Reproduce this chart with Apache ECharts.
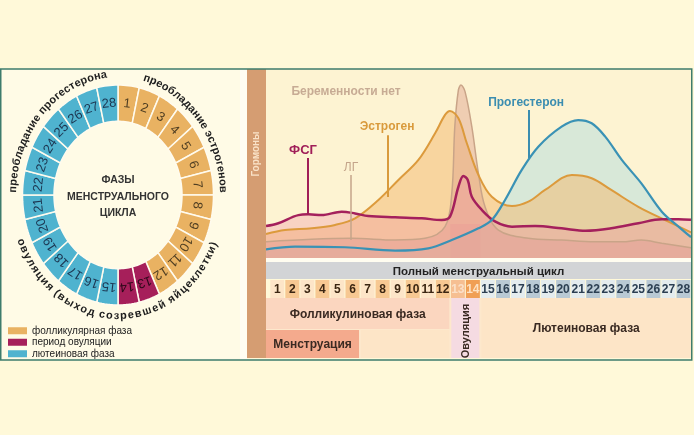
<!DOCTYPE html>
<html>
<head>
<meta charset="utf-8">
<script src="https://cdn.jsdelivr.net/npm/echarts@6/dist/echarts.min.js"></script>
<style>
  html, body { margin: 0; padding: 0; background: #fff9d9; }
  #main { width: 694px; height: 435px; }
</style>
</head>
<body>
<div id="main"></div>
<script>
const FONT = '"Liberation Sans", Arial, sans-serif';

// ---- кольцо: дни цикла по фазам
const ringNames = ['фолликулярная фаза', 'период овуляции', 'лютеиновая фаза'];
const follicularDays = [1, 2, 3, 4, 5, 6, 7, 8, 9, 10, 11, 12];
const ovulationDays = [13, 14];
const lutealDays = [15, 16, 17, 18, 19, 20, 21, 22, 23, 24, 25, 26, 27, 28];
const ringCaptions = ['преобладание прогестерона', 'преобладание эстрогенов', 'овуляция (выход созревшей яйцеклетки)'];

// ---- гормоны: [день цикла, уровень]
const fshCurve = [[-0.25,16.9],[0.57,18.4],[1.9,22.7],[2.56,23.1],[3.45,22.7],[4.78,24.5],[5.67,23.6],[6.55,22.2],[8.33,21.5],[10.1,21],[11.43,20.1],[11.98,21.9],[12.54,37.7],[12.87,43.4],[13.16,41.3],[13.43,32.4],[14.1,25.4],[15.0,19.2],[16.1,16.6],[17.64,16.9],[19.4,15.7],[21,14.4],[22.7,15.7],[24.5,18.4],[26.06,20.5],[27.17,20.5],[28,20.2]];
const estrogenCurve = [[-0.25,12.7],[1.01,14.8],[2.79,15.7],[4.34,17.5],[5.67,21],[7.22,30.7],[8.55,41.3],[9.88,51.9],[10.99,66],[11.65,75.7],[11.98,77.8],[12.54,73.9],[13.1,60.7],[13.87,43.9],[14.76,32.4],[16.1,27.5],[17.19,29.8],[18.3,36],[20.08,43.9],[21.4,42.2],[22.7,36],[24.5,27.1],[26.28,20.1],[28,13.6]];
const lhCurve = [[-0.25,8.6],[2.79,9.9],[5.45,10.4],[8.33,9.5],[10.32,10.4],[11.65,16.6],[12.1,34.2],[12.3,69.5],[12.54,88.9],[12.71,91.5],[12.98,88],[13.43,69.5],[13.87,44.8],[14.31,27.1],[15.2,14.8],[17.19,10.4],[19.4,9.5],[21.6,8.6],[23.4,8.6],[24.7,9.5],[26.06,7.8],[28,5.4]];
const progesteroneCurve = [[-0.25,4.6],[1.68,6],[5.0,5.7],[8.33,3.9],[10.54,5.1],[12.1,9.5],[13.87,15.7],[14.76,20.1],[15.64,30.7],[16.75,46.6],[17.85,58.9],[19.4,69.5],[20.5,73],[21.4,71.3],[22.3,64.2],[23.4,51.9],[24.7,39.5],[26.06,24.5],[27.17,16.6],[28,11]];

// ---- подписи кривых: [x, y] и выноски [x, yTop, yBottom]
const labelNames = ['ФСГ', 'ЛГ', 'Эстроген', 'Прогестерон', 'Беременности нет'];
const labelPos = [[2.21,57.1],[5.4,47.6],[7.8,69.3],[17.04,82],[5.07,87.8]];
const leaderPos = [[2.54,52.9,22.8],[5.4,43.9,9.5],[7.86,65,32.3],[17.24,78.3,52.9]];

// ---- таблица снизу
const cycleDays = [1,2,3,4,5,6,7,8,9,10,11,12,13,14,15,16,17,18,19,20,21,22,23,24,25,26,27,28];
const bandNames = ['Полный менструальный цикл', 'Фолликулиновая фаза', 'Менструация', '', 'Овуляция', 'Лютеиновая фаза'];
const bandFrom = [0, 0, 0, 6, 12, 14];
const bandTo = [28, 12, 6, 12, 14, 28];
const bandRow = ['cycle', 'top', 'bottom', 'bottom', 'full', 'full'];

// ---- оформление
const ROWS = { cycle: [0, 17], days: [18, 36], top: [36, 67], bottom: [68, 96], full: [36, 96] };
const BAND_FILL = ['#d2d4d6', '#fbd6bf', '#f4aa8d', '#fde5c7', '#f5dbe2', '#fde5c7'];
const RING = { cx: 118, cy: 195, rx: 95.5, ry: 110, inner: 0.67 };
const RING_COLORS = ['#e9b262', '#a61f5a', '#4fb3cf'];
const RING_TEXT = ['#4f3e22', '#2a0818', '#1c3550'];

function dayLook(d) {
  if (d <= 12) return { bg: d % 2 ? '#fde5c8' : '#f7c892', fg: '#3b2612' };
  if (d === 13) return { bg: '#f6bf92', fg: '#fbe0c8' };
  if (d === 14) return { bg: '#f09f55', fg: '#fde2c4' };
  return { bg: d % 2 ? '#e4ecee' : '#b9c9d4', fg: '#2c3f52' };
}

function ringItem(idx) {
  return function (params, api) {
    const d = api.value(0);
    const step = 2 * Math.PI / 28;
    const a0 = -Math.PI / 2 + (d - 1) * step, a1 = a0 + step;
    const pts = [];
    const N = 8;
    for (let i = 0; i <= N; i++) {
      const a = a0 + (a1 - a0) * i / N;
      pts.push(api.coord([Math.cos(a), -Math.sin(a)]));
    }
    for (let i = N; i >= 0; i--) {
      const a = a0 + (a1 - a0) * i / N;
      pts.push(api.coord([RING.inner * Math.cos(a), -RING.inner * Math.sin(a)]));
    }
    const am = (a0 + a1) / 2;
    const rm = (1 + RING.inner) / 2;
    const tp = api.coord([rm * Math.cos(am), -rm * Math.sin(am)]);
    return {
      type: 'group',
      children: [
        { type: 'polygon', shape: { points: pts }, style: { fill: api.visual('color'), stroke: '#fffbee', lineWidth: 1.5 } },
        { type: 'text', x: tp[0], y: tp[1], rotation: -(am + Math.PI / 2),
          style: { text: String(d), fill: RING_TEXT[idx], font: '13px ' + FONT, align: 'center', verticalAlign: 'middle' } }
      ]
    };
  };
}

function dayCell(params, api) {
  const d = api.value(0);
  const p0 = api.coord([d - 1, ROWS.days[0]]);
  const p1 = api.coord([d, ROWS.days[1]]);
  const look = dayLook(d);
  return {
    type: 'group',
    children: [
      { type: 'rect', shape: { x: p0[0] + 0.5, y: p0[1], width: p1[0] - p0[0] - 1, height: p1[1] - p0[1] }, style: { fill: look.bg } },
      { type: 'text', x: (p0[0] + p1[0]) / 2, y: (p0[1] + p1[1]) / 2 + 1,
        style: { text: String(d), fill: look.fg, font: 'bold 12px ' + FONT, align: 'center', verticalAlign: 'middle' } }
    ]
  };
}

function bandItem(params, api) {
  const i = params.dataIndex;
  const row = ROWS[bandRow[i]];
  const from = api.value(0), to = api.value(1);
  const x0 = from === 0 ? params.coordSys.x : api.coord([from, 0])[0] + 1;
  const x1 = api.coord([to, 0])[0] - (to === 28 ? 0 : 1);
  const y0 = api.coord([0, row[0]])[1], y1 = api.coord([0, row[1]])[1];
  const vertical = bandNames[i] === 'Овуляция';
  const isCycle = bandRow[i] === 'cycle';
  return {
    type: 'group',
    children: [
      { type: 'rect', shape: { x: x0, y: y0, width: x1 - x0, height: y1 - y0 }, style: { fill: BAND_FILL[i] } },
      { type: 'text', x: (x0 + x1) / 2 + (vertical ? 1 : 0), y: (y0 + y1) / 2 + (vertical ? 3 : 1), rotation: vertical ? Math.PI / 2 : 0,
        style: { text: bandNames[i], fill: isCycle ? '#222' : '#3a2a22',
          font: (vertical ? 'bold 11px ' : isCycle ? 'bold 11.5px ' : 'bold 12px ') + FONT, align: 'center', verticalAlign: 'middle' } }
    ]
  };
}

// текст по дуге эллипса
const ARC_FONT = 'bold 11px ' + FONT;
function arcText(text, a0, a1) {
  const rx = RING.rx * 1.1, ry = RING.ry * 1.1;
  const ctx = document.createElement('canvas').getContext('2d');
  ctx.font = ARC_FONT;
  const chars = Array.from(text);
  const widths = chars.map(ch => ctx.measureText(ch).width);
  const total = widths.reduce((a, b) => a + b, 0);
  const N = 400, th = [], len = [0];
  for (let i = 0; i <= N; i++) th.push((a0 + (a1 - a0) * i / N) * Math.PI / 180);
  for (let i = 1; i <= N; i++) {
    const dx = rx * (Math.cos(th[i]) - Math.cos(th[i - 1]));
    const dy = ry * (Math.sin(th[i]) - Math.sin(th[i - 1]));
    len.push(len[i - 1] + Math.hypot(dx, dy));
  }
  const k = len[N] / total;
  const dir = Math.sign(a1 - a0);
  const out = [];
  let s = 0;
  widths.forEach((w, i) => {
    const sc = (s + w / 2) * k;
    s += w;
    let j = 1;
    while (j < N && len[j] < sc) j++;
    const t = th[j - 1] + (th[j] - th[j - 1]) * (sc - len[j - 1]) / ((len[j] - len[j - 1]) || 1);
    const tx = -rx * Math.sin(t) * dir, ty = ry * Math.cos(t) * dir;
    out.push({
      type: 'text', x: RING.cx + rx * Math.cos(t), y: RING.cy + ry * Math.sin(t),
      rotation: -Math.atan2(ty, tx), z: 50,
      style: { text: chars[i], font: ARC_FONT, fill: '#1e1e1e', align: 'center', verticalAlign: 'middle' }
    });
  });
  return out;
}

const labelColors = ['#a01e58', '#c4a48a', '#d99a3c', '#3b8db0', '#c7ab94'];
function markFor(idx) {
  const m = {
    markPoint: {
      symbol: 'rect', symbolSize: 1, silent: true, itemStyle: { color: 'transparent' },
      label: { show: true, position: 'inside', formatter: labelNames[idx], color: labelColors[idx],
        fontFamily: FONT, fontWeight: idx === 1 ? 'normal' : 'bold', fontSize: idx === 0 ? 13 : 12 },
      data: [{ coord: labelPos[idx] }]
    }
  };
  if (leaderPos[idx]) {
    const l = leaderPos[idx];
    m.markLine = {
      symbol: ['none', 'none'], silent: true, label: { show: false },
      lineStyle: { color: labelColors[idx], width: idx === 1 ? 1.5 : 2, type: 'solid' },
      data: [[{ coord: [l[0], l[1]] }, { coord: [l[0], l[2]] }]]
    };
  }
  return m;
}

const curves = [progesteroneCurve, estrogenCurve, lhCurve, fshCurve];
const fills = ['rgba(185,222,220,0.55)', 'rgba(244,183,108,0.5)', 'rgba(222,160,140,0.45)', 'rgba(240,145,165,0.33)'];
const lineColors = ['#3a92b5', '#dc9a3c', '#c9a488', '#a4205c'];
const lineWidths = [2.2, 2, 1.5, 2.5];

const series = [];
curves.forEach((c, i) => {
  series.push({
    type: 'line', xAxisIndex: 0, yAxisIndex: 0, data: c, smooth: 0.35, showSymbol: false, silent: true,
    lineStyle: { width: 0 }, areaStyle: { color: fills[i], opacity: 1 }, z: 2
  });
});
series[0].markArea = {
  silent: true, itemStyle: { color: 'rgba(232,140,180,0.45)' },
  data: [[{ coord: [12, 0] }, { coord: [14, 18] }]]
};
// линии поверх заливок: ЛГ, эстроген, ФСГ, прогестерон
[2, 1, 3, 0].forEach(i => {
  const labelIdx = [3, 2, 1, 0][i];
  series.push(Object.assign({
    type: 'line', xAxisIndex: 0, yAxisIndex: 0, data: curves[i], smooth: 0.35, showSymbol: false, silent: true,
    lineStyle: { color: lineColors[i], width: lineWidths[i] }, z: 3
  }, markFor(labelIdx)));
});
// «Беременности нет»
series.push(Object.assign({ type: 'line', xAxisIndex: 0, yAxisIndex: 0, data: [], z: 3 }, { markPoint: markFor(4).markPoint }));

// таблица
series.push({ type: 'custom', xAxisIndex: 1, yAxisIndex: 1, data: bandFrom.map((f, i) => [f, bandTo[i], i]), renderItem: bandItem, clip: false, silent: true, z: 3 });
series.push({ type: 'custom', xAxisIndex: 1, yAxisIndex: 1, data: cycleDays.map(d => [d]), renderItem: dayCell, clip: false, silent: true, z: 3 });

// кольцо
[follicularDays, ovulationDays, lutealDays].forEach((days, i) => {
  series.push({
    type: 'custom', name: ringNames[i], xAxisIndex: 2, yAxisIndex: 2, data: days.map(d => [d]),
    renderItem: ringItem(i), clip: false, silent: true, itemStyle: { color: RING_COLORS[i] }, z: 4
  });
});

const graphics = [
  { type: 'rect', shape: { x: 0, y: 69, width: 240, height: 291 }, style: { fill: '#fffbe6' }, z: -10 },
  { type: 'rect', shape: { x: 240, y: 69, width: 7, height: 291 }, style: { fill: '#fffdf3' }, z: -10 },
  { type: 'rect', shape: { x: 266, y: 258, width: 426, height: 4 }, style: { fill: '#fffdf0' }, z: -10 },
  { type: 'rect', shape: { x: 266, y: 298, width: 426, height: 60 }, style: { fill: '#fde8cc' }, z: -10 },
  { type: 'rect', shape: { x: 247, y: 69, width: 19, height: 289 }, style: { fill: '#d59d72' }, z: 10 },
  { type: 'text', x: 256.5, y: 154, rotation: Math.PI / 2, z: 11,
    style: { text: 'Гормоны', fill: '#f9e2c8', font: 'bold 10px ' + FONT, align: 'center', verticalAlign: 'middle' } },
  { type: 'text', x: RING.cx, y: RING.cy + 2, z: 20,
    style: { text: 'ФАЗЫ\nМЕНСТРУАЛЬНОГО\nЦИКЛА', fill: '#333', font: 'bold 10.5px ' + FONT, lineHeight: 16.5, align: 'center', verticalAlign: 'middle' } },
  { type: 'rect', shape: { x: 0.75, y: 69, width: 691, height: 291 }, style: { fill: null, stroke: '#3e7c6c', lineWidth: 1.5 }, z: 60 }
].concat(
  arcText(ringCaptions[0], 181, 264),
  arcText(ringCaptions[1], -76, -1),
  arcText(ringCaptions[2], 159, 23)
);

const chart = echarts.init(document.getElementById('main'));
chart.setOption({
  animation: false,
  backgroundColor: '#fff9d9',
  textStyle: { fontFamily: FONT },
  legend: {
    data: ringNames, orient: 'vertical', left: 8, top: 325, padding: 0,
    itemWidth: 19, itemHeight: 7, itemGap: 0, icon: 'rect', selectedMode: false,
    textStyle: { fontSize: 10, color: '#222', fontFamily: FONT, lineHeight: 11.5 }
  },
  grid: [
    { left: 266, right: 3, top: 69, bottom: 177, show: true, backgroundColor: '#fdf3d2', borderWidth: 0 },
    { left: 266, right: 3, top: 262, bottom: 77 },
    { left: RING.cx - RING.rx, top: RING.cy - RING.ry, width: RING.rx * 2, height: RING.ry * 2 }
  ],
  xAxis: [
    { type: 'value', gridIndex: 0, min: -0.25, max: 28, show: false },
    { type: 'value', gridIndex: 1, min: -0.25, max: 28, show: false },
    { type: 'value', gridIndex: 2, min: -1, max: 1, show: false }
  ],
  yAxis: [
    { type: 'value', gridIndex: 0, min: 0, max: 100, show: false },
    { type: 'value', gridIndex: 1, min: 0, max: 96, inverse: true, show: false },
    { type: 'value', gridIndex: 2, min: -1, max: 1, show: false }
  ],
  graphic: graphics,
  series: series
});
window.addEventListener('resize', function () { chart.resize(); });
</script>
</body>
</html>
